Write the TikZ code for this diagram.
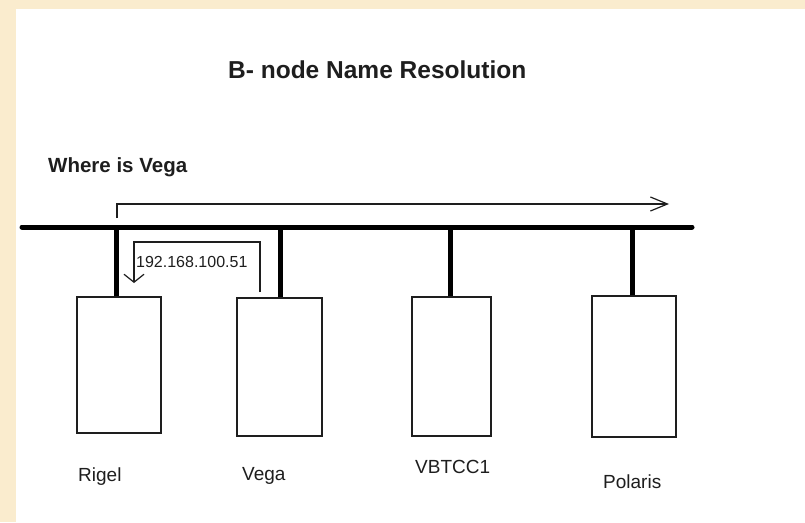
\documentclass[tikz,border=0pt]{standalone}
\usepackage{fontspec}
\setmainfont{Liberation Sans}
\usetikzlibrary{arrows.meta,positioning}
\definecolor{paper}{RGB}{250,236,206}
\definecolor{ink}{RGB}{30,30,30}

\begin{document}
\begin{tikzpicture}[
  x=1pt,y=-1pt,font=\fontsize{19}{22}\selectfont,text=ink,
  host/.style={rectangle,draw=ink,line width=1.3pt,inner sep=0pt},
  lbl/.style={anchor=base west,inner sep=0pt},
  wire/.style={line width=5pt},
  msg/.style={line width=1.2pt,draw=ink,-{Straight Barb[length=8pt,width=20pt,line width=1.2pt]}}
]
\useasboundingbox (0,0) rectangle (805,522);
\fill[paper] (0,0) rectangle (805,522);
\fill[white] (16,9) rectangle (805,522);
% heading
\node[lbl,font=\fontsize{24.5}{28}\selectfont\bfseries] (title) at (228,78) {B- node Name Resolution};
\node[lbl,font=\fontsize{20.5}{24}\selectfont\bfseries] (ask) at (48,172) {Where is Vega};
% the hosts
\node[host,minimum width=84pt,minimum height=136pt] (rigel) at (119,365) {};
\node[host,minimum width=85pt,minimum height=138pt] (vega) at (279.5,367) {};
\node[host,minimum width=79pt,minimum height=139pt] (vbtcc) at (451.5,366.5) {};
\node[host,minimum width=84pt,minimum height=141pt] (polaris) at (634,366.5) {};
\node[lbl] (rigelname) at (78,481) {Rigel};
\node[lbl] (veganame) at (242,480) {Vega};
\node[lbl] (vbtccname) at (415,473) {VBTCC1};
\node[lbl] (polarisname) at (603,488) {Polaris};
% the bus
\coordinate (busL) at (22,227);
\coordinate (busR) at (692,227);
\draw[wire,line cap=round] (busL) -- (busR);
\foreach \h/\dx in {rigel/-2.5,vega/0.5,vbtcc/-1.5,polaris/-2}
  \draw[wire] ([xshift=\dx pt]\h.north) -- ([xshift=\dx pt]\h.north |- busL);
% broadcast query
\coordinate (q0) at (117,218);
\coordinate (q1) at (669,204);
\draw[msg,-{Straight Barb[length=17pt,width=14pt,line width=1.2pt]}] (q0) |- (q1);
% answer from Vega
\coordinate (r0) at (260,292);
\coordinate (rtop) at (197,242);
\coordinate (r1) at (134,283);
\draw[msg] (r0) |- (rtop) -| (r1);
\node[lbl,font=\fontsize{16}{19}\selectfont] (ip) at (136,267) {192.168.100.51};
\end{tikzpicture}
\end{document}
